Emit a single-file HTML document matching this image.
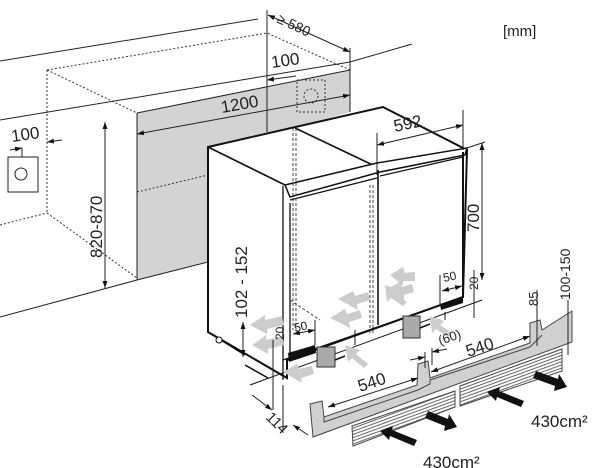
<!DOCTYPE html>
<html><head><meta charset="utf-8"><style>
html,body{margin:0;padding:0;background:#fff;}
svg{display:block;}
text{font-family:"Liberation Sans",sans-serif;fill:#222;}
</style></head><body>
<svg width="600" height="468" viewBox="0 0 600 468" xmlns="http://www.w3.org/2000/svg">
<defs>
<marker id="a" viewBox="0 0 10 10" refX="10" refY="5" markerWidth="7" markerHeight="7" orient="auto-start-reverse"><path d="M0,1.5 L10,5 L0,8.5z" fill="#111"/></marker>
<pattern id="h" width="4" height="3" patternUnits="userSpaceOnUse" patternTransform="rotate(-20)"><rect width="4" height="3" fill="#fff"/><line x1="0" y1="1" x2="4" y2="1" stroke="#666" stroke-width="1"/></pattern>
</defs>
<!-- grey wall -->
<polygon points="137,113 350,70 350,112 296,128 208,147 208,262 137,280" fill="#d3d3d3"/>
<!-- wall lines -->
<line x1="0" y1="61" x2="258" y2="19" stroke="#222" stroke-width="1"/>
<line x1="0" y1="120" x2="350" y2="62" stroke="#222" stroke-width="1"/>
<line x1="350" y1="62" x2="412" y2="44" stroke="#222" stroke-width="1"/>
<line x1="137" y1="113" x2="350" y2="70" stroke="#222" stroke-width="1"/>
<line x1="267" y1="10" x2="267" y2="132" stroke="#222" stroke-width="1"/>
<line x1="350" y1="48" x2="350" y2="112" stroke="#222" stroke-width="1"/>
<line x1="137" y1="113" x2="137" y2="280" stroke="#222" stroke-width="1"/>
<line x1="0" y1="350" x2="137" y2="280" stroke="#222" stroke-width="0" />
<line x1="0" y1="317" x2="137" y2="280" stroke="#222" stroke-width="1"/>
<line x1="137" y1="280" x2="208" y2="262" stroke="#222" stroke-width="1"/>
<!-- dotted niche -->
<g stroke="#333" stroke-width="1" stroke-dasharray="2,2" fill="none">
<polyline points="47,70 267,33 350,70"/>
<line x1="47" y1="70" x2="137" y2="113"/>
<line x1="47" y1="70" x2="47" y2="213"/>
<line x1="0" y1="225" x2="47" y2="213"/>
<line x1="47" y1="213" x2="137" y2="278"/>
<line x1="137" y1="192" x2="208" y2="175"/>
<rect x="297" y="80" width="28" height="32"/>
<circle cx="311" cy="96" r="7"/>
</g>
<!-- socket -->
<rect x="8" y="157" width="30" height="35" fill="#fff" stroke="#222"/>
<circle cx="21" cy="174" r="6" fill="none" stroke="#222"/>
<line x1="22" y1="148" x2="22" y2="157" stroke="#222"/>
<!-- dims top left -->
<line x1="10" y1="150" x2="22" y2="148" stroke="#222" marker-end="url(#a)"/>
<line x1="62" y1="140" x2="47" y2="142" stroke="#222" marker-end="url(#a)"/>
<text x="12" y="142" font-size="17" transform="rotate(-8 12 142)">100</text>
<line x1="105" y1="122" x2="105" y2="288" stroke="#222" marker-start="url(#a)" marker-end="url(#a)"/>
<text x="0" y="0" font-size="17" transform="translate(102,258) rotate(-90)">820-870</text>
<line x1="137" y1="134" x2="350" y2="95" stroke="#222" marker-start="url(#a)" marker-end="url(#a)"/>
<text x="222" y="113" font-size="17" transform="rotate(-10 222 113)">1200</text>
<line x1="267" y1="80" x2="296" y2="76" stroke="#222" marker-start="url(#a)"/>
<text x="272" y="68" font-size="17" transform="rotate(-8 272 68)">100</text>
<line x1="268" y1="15" x2="350" y2="52" stroke="#222" marker-start="url(#a)" marker-end="url(#a)"/>
<text x="276" y="22" font-size="14" transform="rotate(25 276 22)">≥ 580</text>
<text x="503" y="36" font-size="15">[mm]</text>
<!-- fridge -->
<polygon points="208,147 383,107 467,150 463,297 287,360 287,378 208,332" fill="#fff" stroke="#111" stroke-width="2"/>
<line x1="295" y1="128" x2="377" y2="167" stroke="#111" stroke-width="1.6"/>
<line x1="208" y1="147" x2="285" y2="185" stroke="#111" stroke-width="1.6"/>
<path d="M285,185 L377,163 L467,148 L465,155 L380,172 L290,197 Z" fill="#fff" stroke="#111" stroke-width="1.5"/>
<line x1="290" y1="200" x2="377" y2="178" stroke="#111" stroke-width="1.2"/>
<line x1="380" y1="176" x2="463" y2="157" stroke="#111" stroke-width="1.2"/>
<line x1="283" y1="186" x2="283" y2="380" stroke="#111" stroke-width="1.3"/>
<line x1="290" y1="203" x2="290" y2="355" stroke="#111" stroke-width="1.3"/>
<line x1="378" y1="170" x2="378" y2="325" stroke="#111" stroke-width="1.6"/>
<line x1="463" y1="152" x2="463" y2="298" stroke="#111" stroke-width="2"/>
<g stroke="#444" stroke-dasharray="3,2" fill="none">
<line x1="293" y1="128" x2="293" y2="330"/><line x1="296" y1="128" x2="296" y2="330"/>
<line x1="370" y1="185" x2="370" y2="335"/><line x1="373" y1="185" x2="373" y2="335"/>
<line x1="290" y1="300" x2="320" y2="320"/>
</g>
<line x1="283" y1="360" x2="463" y2="297" stroke="#111" stroke-width="1.2"/>
<line x1="250" y1="385" x2="482" y2="300" stroke="#111" stroke-width="1"/>
<line x1="208" y1="332" x2="245" y2="355" stroke="#111" stroke-width="1.5"/>
<line x1="245" y1="365" x2="268" y2="378" stroke="#111" stroke-width="1.5"/>
<circle cx="219" cy="340" r="3" fill="#fff" stroke="#111"/>
<!-- black bars -->
<polygon points="288,353 315,345 316,353 289,362" fill="#111"/>
<polygon points="440,304 463,297 463,303 441,310" fill="#111"/>
<!-- feet -->
<rect x="317" y="347" width="18" height="20" fill="#aaa" stroke="#333"/>
<rect x="403" y="316" width="17" height="22" fill="#aaa" stroke="#333"/>
<line x1="335" y1="360" x2="345" y2="356" stroke="#111" stroke-width="1.5"/>
<line x1="420" y1="328" x2="430" y2="324" stroke="#111" stroke-width="1.5"/>
<line x1="355" y1="330" x2="355" y2="345" stroke="#111"/>
<line x1="445" y1="312" x2="445" y2="320" stroke="#111"/>
<!-- grey air arrows -->
<g fill="#ccc">
<polygon points="250,325 265,315 265,320 282,316 284,325 267,329 267,334"/>
<polygon points="252,345 266,335 266,340 282,336 284,345 268,349 268,354"/>
<polygon points="338,299 353,291 355,296 368,292 370,300 357,304 358,310"/>
<polygon points="330,318 345,309 347,314 360,310 362,318 349,322 350,328"/>
<polygon points="385,290 400,282 402,287 412,284 414,292 404,295 404,301"/>
<polygon points="385,290 398,282 400,288 410,287 410,296 398,296 398,301" transform="translate(5,-15)"/>
<polygon points="345,345 360,350 356,354 368,364 364,368 352,358 348,362"/>
<polygon points="435,285 449,290 445,294 457,302 453,306 441,298 437,302" transform="translate(-50,0)"/>
<polygon points="430,316 444,321 440,325 452,333 448,337 436,329 432,333"/>
<polygon points="283,372 297,364 299,369 312,366 314,374 301,378 302,383"/>
</g>
<!-- dims right -->
<line x1="377" y1="133" x2="377" y2="175" stroke="#222"/>
<line x1="463" y1="110" x2="463" y2="150" stroke="#222"/>
<line x1="377" y1="145" x2="463" y2="125" stroke="#222" marker-start="url(#a)" marker-end="url(#a)"/>
<text x="395" y="132" font-size="17" transform="rotate(-12 395 132)">592</text>
<line x1="467" y1="148" x2="485" y2="142" stroke="#222"/>
<line x1="482" y1="143" x2="482" y2="280" stroke="#222" marker-start="url(#a)" marker-end="url(#a)"/>
<text x="0" y="0" font-size="17" transform="translate(479,232) rotate(-90)">700</text>
<line x1="440" y1="275" x2="440" y2="305" stroke="#222"/>
<line x1="442" y1="291" x2="462" y2="286" stroke="#222" marker-start="url(#a)" marker-end="url(#a)"/>
<text x="444" y="282" font-size="12" transform="rotate(-12 444 282)">50</text>
<line x1="474" y1="270" x2="474" y2="318" stroke="#222"/>
<text x="0" y="0" font-size="12" transform="translate(478,290) rotate(-90)">20</text>
<!-- left dims -->
<line x1="243" y1="322" x2="243" y2="357" stroke="#222" marker-start="url(#a)" marker-end="url(#a)"/>
<text x="0" y="0" font-size="17" transform="translate(247,318) rotate(-90)">102 - 152</text>
<line x1="273" y1="340" x2="273" y2="410" stroke="#222"/>
<line x1="283" y1="385" x2="283" y2="430" stroke="#222"/>
<text x="0" y="0" font-size="12" transform="translate(284,340) rotate(-90)">20</text>
<line x1="293" y1="334" x2="315" y2="330" stroke="#222" marker-start="url(#a)" marker-end="url(#a)"/>
<line x1="315" y1="320" x2="315" y2="345" stroke="#222"/>
<text x="295" y="332" font-size="12" transform="rotate(-12 295 332)">50</text>
<line x1="252" y1="395" x2="272" y2="410" stroke="#222" marker-end="url(#a)"/>
<line x1="308" y1="435" x2="293" y2="425" stroke="#222" marker-end="url(#a)"/>
<text x="265" y="418" font-size="15" transform="rotate(45 265 418)">114</text>
<!-- plinth -->
<polygon points="310,404 322,401 324,417 417,385 418,364 428,361 430,378 530,343 530,323 540,320 542,330 572,311 572,342 313,437" fill="#d0d0d0" stroke="#444" stroke-width="1"/>
<polyline points="324,417 324,422 418,390 430,384 430,380 530,347 542,335" fill="none" stroke="#444"/>
<polygon points="352,426 455,391 455,407 353,446" fill="url(#h)" stroke="#444"/>
<polygon points="460,386 562,349 562,371 460,406" fill="url(#h)" stroke="#444"/>
<!-- plinth dims -->
<line x1="328" y1="407" x2="418" y2="378" stroke="#222" marker-start="url(#a)" marker-end="url(#a)"/>
<text x="360" y="392" font-size="17" transform="rotate(-18 360 392)">540</text>
<line x1="431" y1="372" x2="530" y2="336" stroke="#222" marker-start="url(#a)" marker-end="url(#a)"/>
<text x="468" y="357" font-size="17" transform="rotate(-18 468 357)">540</text>
<line x1="425" y1="352" x2="425" y2="368" stroke="#222"/>
<line x1="432" y1="348" x2="432" y2="365" stroke="#222"/>
<line x1="410" y1="360" x2="425" y2="357" stroke="#222" marker-end="url(#a)"/>
<line x1="447" y1="349" x2="432" y2="352" stroke="#222" marker-end="url(#a)"/>
<text x="440" y="345" font-size="13" transform="rotate(-18 440 345)">(60)</text>
<line x1="537" y1="290" x2="537" y2="346" stroke="#222"/>
<text x="0" y="0" font-size="13" transform="translate(538,306) rotate(-90)">85</text>
<line x1="568" y1="300" x2="568" y2="355" stroke="#222"/>
<text x="0" y="0" font-size="14" transform="translate(570,300) rotate(-90)">100-150</text>
<!-- black arrows -->
<g fill="#111">
<polygon points="380,431 393,426 392,430 417,440 414,446 390,436 389,440"/>
<polygon points="457,427 444,431 445,426 425,418 428,411 448,419 449,414"/>
<polygon points="487,392 500,387 499,391 524,401 521,407 497,397 496,401"/>
<polygon points="567,387 554,391 555,386 533,378 536,371 558,379 559,374"/>
</g>
<text x="423" y="468" font-size="17">430cm²</text>
<text x="531" y="427" font-size="17">430cm²</text>
</svg>
</body></html>
